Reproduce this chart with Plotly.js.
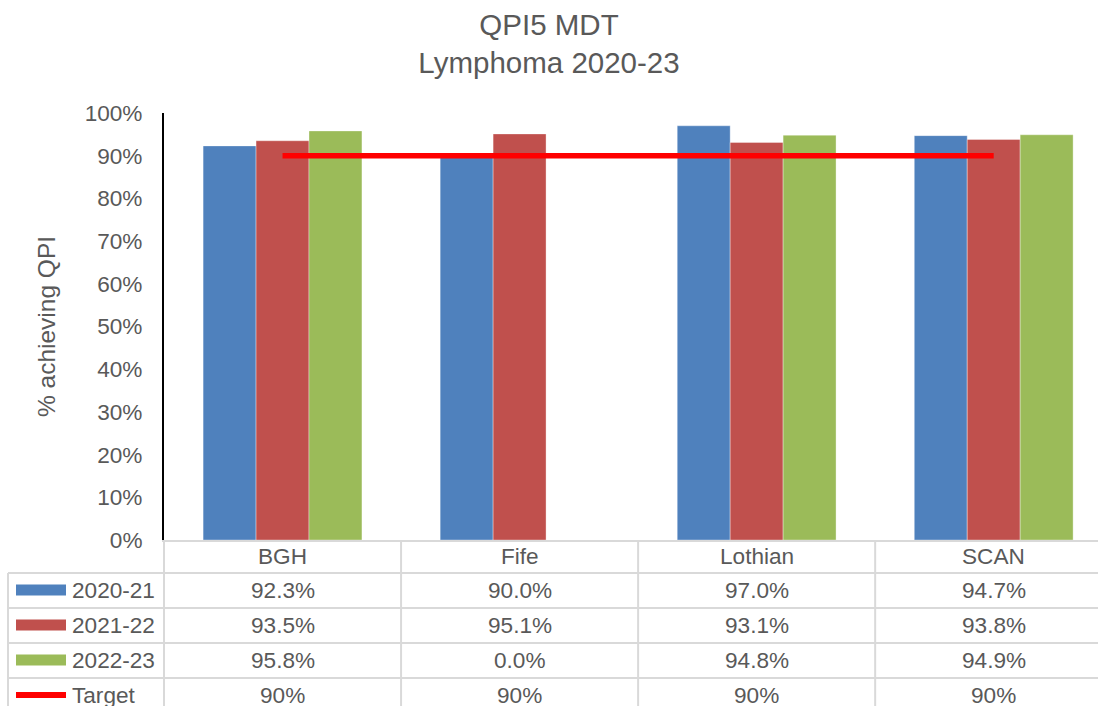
<!DOCTYPE html>
<html><head><meta charset="utf-8">
<script src="https://cdn.plot.ly/plotly-3.0.1.min.js"></script>
<style>html,body{margin:0;padding:0;background:#fff}#chart{width:1098px;height:706px}</style>
</head><body><div id="chart"></div>
<script>
// ---- data ----
const categories = ['BGH', 'Fife', 'Lothian', 'SCAN'];
const seriesNames = ['2020-21', '2021-22', '2022-23'];
const values2020_21 = [92.3, 90.0, 97.0, 94.7];
const values2021_22 = [93.5, 95.1, 93.1, 93.8];
const values2022_23 = [95.8, 0.0, 94.8, 94.9];
const targetName = 'Target';
const targetValues = [90, 90, 90, 90];
const titleText = 'QPI5 MDT<br>Lymphoma 2020-23';
const yAxisTitle = '% achieving QPI';

// ---- style ----
const seriesColors = ['#4F81BD', '#C0504D', '#9BBB59'];
const targetColor = '#FF0000';
const textColor = '#595959';
const gridColor = '#D9D9D9';
const FONT = 'Liberation Sans, Arial, sans-serif';
const W = 1098, H = 706;
const plotL = 164, plotT = 113, plotB = 540;
const plotW = W - plotL, plotH = plotB - plotT;
const xRange = [-0.5, 3.44];

const xp = px => (px - plotL) / plotW;          // pixel -> paper x
const yp = py => (plotB - py) / plotH;          // pixel -> paper y
const catToPaper = c => (c - xRange[0]) / (xRange[1] - xRange[0]);

const seriesValues = [values2020_21, values2021_22, values2022_23];

const traces = seriesValues.map((vals, s) => ({
  type: 'bar', name: seriesNames[s], x: categories, y: vals,
  marker: {color: seriesColors[s], line: {width: 1, color: 'rgba(255,255,255,0.35)'}},
  hoverinfo: 'skip'
}));
traces.push({
  type: 'scatter', mode: 'lines', name: targetName, x: categories, y: targetValues,
  line: {color: targetColor, width: 5.5}, hoverinfo: 'skip'
});

// ---- data table (annotations + shapes) ----
const headerCenter = 556.5;
const rowTops = [573, 608, 643, 678];
const rowH = 35;
const rowCenters = rowTops.map(t => t + rowH / 2 - 0.5);
const tFont = {family: FONT, size: 22.6, color: textColor};

const annotations = [];
categories.forEach((c, i) => {
  annotations.push({xref: 'x', yref: 'paper', x: i, y: yp(headerCenter), text: c,
    showarrow: false, xanchor: 'center', yanchor: 'middle', font: tFont});
});
seriesValues.forEach((vals, s) => {
  vals.forEach((v, i) => {
    annotations.push({xref: 'x', yref: 'paper', x: i, y: yp(rowCenters[s]), text: v.toFixed(1) + '%',
      showarrow: false, xanchor: 'center', yanchor: 'middle', font: tFont});
  });
  annotations.push({xref: 'paper', yref: 'paper', x: xp(70), y: yp(rowCenters[s]), text: seriesNames[s],
    showarrow: false, xanchor: 'left', yanchor: 'middle', font: tFont});
});
targetValues.forEach((v, i) => {
  annotations.push({xref: 'x', yref: 'paper', x: i, y: yp(rowCenters[3]), text: v + '%',
    showarrow: false, xanchor: 'center', yanchor: 'middle', font: tFont});
});
annotations.push({xref: 'paper', yref: 'paper', x: xp(70), y: yp(rowCenters[3]), text: targetName,
  showarrow: false, xanchor: 'left', yanchor: 'middle', font: tFont});

const shapes = [];
const gridLine = {color: gridColor, width: 2};
// horizontal row lines
rowTops.forEach(t => {
  shapes.push({type: 'line', xref: 'paper', yref: 'paper', x0: xp(8), x1: xp(W + 5), y0: yp(t), y1: yp(t), line: gridLine});
});
// left border of legend column
shapes.push({type: 'line', xref: 'paper', yref: 'paper', x0: xp(8), x1: xp(8), y0: yp(573), y1: yp(H + 10), line: gridLine});
// category boundaries
[-0.5, 0.5, 1.5, 2.5].forEach(b => {
  shapes.push({type: 'line', xref: 'paper', yref: 'paper', x0: catToPaper(b), x1: catToPaper(b), y0: yp(plotB), y1: yp(H + 10), line: gridLine});
});
// legend keys
seriesColors.forEach((col, s) => {
  shapes.push({type: 'rect', xref: 'paper', yref: 'paper', x0: xp(16), x1: xp(66),
    y0: yp(rowCenters[s] - 5.5), y1: yp(rowCenters[s] + 5.5), fillcolor: col, line: {width: 0}});
});
shapes.push({type: 'line', xref: 'paper', yref: 'paper', x0: xp(16), x1: xp(66),
  y0: yp(rowCenters[3]), y1: yp(rowCenters[3]), line: {color: targetColor, width: 6}});

const layout = {
  width: W, height: H,
  margin: {l: plotL, r: 0, t: plotT, b: H - plotB, pad: 0},
  paper_bgcolor: '#ffffff', plot_bgcolor: '#ffffff',
  showlegend: false,
  barmode: 'group', bargap: 0.33, bargroupgap: 0,
  font: {family: FONT, color: textColor, size: 22},
  title: {text: titleText, font: {family: FONT, size: 29.5, color: textColor},
    x: 0.5, xref: 'container', xanchor: 'center', y: 1 - 35 / H, yref: 'container', yanchor: 'middle'},
  xaxis: {type: 'category', range: xRange, showticklabels: false, ticks: '', showgrid: false,
    zeroline: false, showline: true, linecolor: gridColor, linewidth: 2, fixedrange: true},
  yaxis: {range: [0, 100], dtick: 10, tick0: 0, ticksuffix: '%', showgrid: false, zeroline: false,
    showline: true, linecolor: '#000000', linewidth: 2, ticks: '', ticklabelstandoff: 15,
    tickfont: {family: FONT, size: 22.6, color: textColor},
    title: {text: yAxisTitle, font: {family: FONT, size: 24.5, color: textColor}, standoff: 22},
    fixedrange: true},
  annotations: annotations,
  shapes: shapes
};

Plotly.newPlot('chart', traces, layout, {displayModeBar: false, staticPlot: true});
</script>
</body></html>
